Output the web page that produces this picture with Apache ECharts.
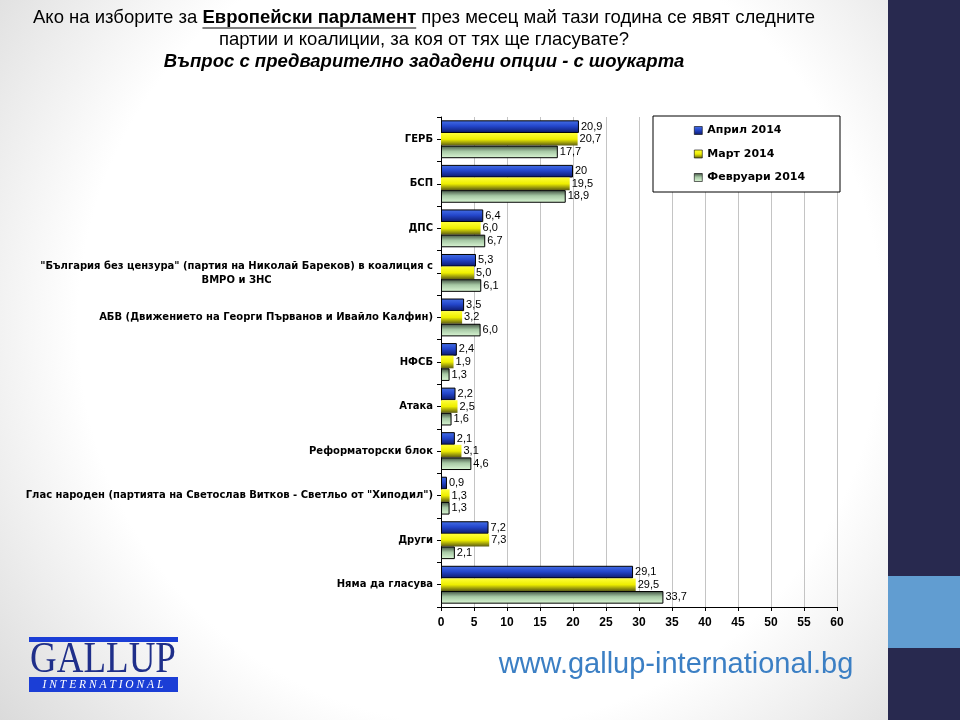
<!DOCTYPE html>
<html>
<head>
<meta charset="utf-8">
<script src="https://cdn.jsdelivr.net/npm/echarts@6/dist/echarts.min.js"></script>
<style>
html,body{margin:0;padding:0;background:#fff;}
#c{width:960px;height:720px;}
</style>
</head>
<body>
<div id="c"></div>
<script>
// ---- data ----
const categories = [
  'ГЕРБ',
  'БСП',
  'ДПС',
  '"България без цензура" (партия на Николай Бареков) в коалиция с ВМРО и ЗНС',
  'АБВ (Движението на Георги Първанов и Ивайло Калфин)',
  'НФСБ',
  'Атака',
  'Реформаторски блок',
  'Глас народен (партията на Светослав Витков - Светльо от "Хиподил")',
  'Други',
  'Няма да гласува'
];
const seriesNames = ['Април 2014', 'Март 2014', 'Февруари 2014'];
const april2014 = [20.9, 20, 6.4, 5.3, 3.5, 2.4, 2.2, 2.1, 0.9, 7.2, 29.1];
const march2014 = [20.7, 19.5, 6.0, 5.0, 3.2, 1.9, 2.5, 3.1, 1.3, 7.3, 29.5];
const february2014 = [17.7, 18.9, 6.7, 6.1, 6.0, 1.3, 1.6, 4.6, 1.3, 2.1, 33.7];
const xTicks = [0, 5, 10, 15, 20, 25, 30, 35, 40, 45, 50, 55, 60];

const titleLine1a = 'Ако на изборите за ';
const titleLine1b = 'Европейски парламент';
const titleLine1c = ' през месец май тази година се явят следните';
const titleLine2 = 'партии и коалиции, за коя от тях ще гласувате?';
const titleLine3 = 'Въпрос с предварително зададени опции - с шоукарта';
const urlText = 'www.gallup-international.bg';

// ---- chart ----
const chart = echarts.init(document.getElementById('c'));
const FONT = '"Liberation Sans", Arial, sans-serif';
const LFONT = '"DejaVu Sans", Tahoma, sans-serif';

function grad(stops) {
  return {type: 'linear', x: 0, y: 0, x2: 0, y2: 1,
    colorStops: stops.map(s => ({offset: s[0], color: s[1]}))};
}
const blueG = grad([[0, '#4670e6'], [0.45, '#2447cc'], [1, '#0c1868']]);
const yellowG = grad([[0, '#ffff38'], [0.5, '#eeee00'], [1, '#5c5c14']]);
const greenG = grad([[0, '#3e4e40'], [0.45, '#a6c8a4'], [1, '#dcf8d6']]);

function fmt(v) {
  if (Number.isInteger(v) && v >= 10) return String(v);
  return v.toFixed(1).replace('.', ',');
}

const labelCfg = {
  show: true, position: 'right', distance: 2,
  fontFamily: FONT, fontSize: 11, color: '#000',
  formatter: p => fmt(p.value)
};

function mkSeries(name, data, color, bw) {
  return {
    name: name, type: 'bar', data: data,
    barGap: '0%', barCategoryGap: '15%',
    itemStyle: {color: color, borderColor: '#000', borderWidth: bw},
    label: labelCfg,
    emphasis: {disabled: true},
    z: 2
  };
}

// measure title parts for underline
const mctx = document.createElement('canvas').getContext('2d');
function tw(text, font) { mctx.font = font; return mctx.measureText(text).width; }
const T1SIZE = 18.5;
const fN = T1SIZE + 'px ' + FONT;
const fB = 'bold ' + T1SIZE + 'px ' + FONT;
const w1 = tw(titleLine1a, fN), w2 = tw(titleLine1b, fB), w3 = tw(titleLine1c, fN);
const TCX = 424;
const t1start = TCX - (w1 + w2 + w3) / 2;

const option = {
  backgroundColor: {
    type: 'radial', x: 0.5, y: 0.45, r: 0.9,
    colorStops: [{offset: 0, color: '#ffffff'}, {offset: 0.62, color: '#ffffff'}, {offset: 1, color: '#d6d6d6'}]
  },
  animation: false,
  grid: {left: 441, right: 123, top: 117, bottom: 113, containLabel: false},
  legend: {
    orient: 'vertical', left: 689, top: 120, itemGap: 12.5,
    itemWidth: 8, itemHeight: 8, icon: 'rect',
    data: seriesNames,
    textStyle: {fontFamily: LFONT, fontWeight: 'bold', fontSize: 11, color: '#000'},
    itemStyle: {borderColor: '#000', borderWidth: 0.6},
    z: 10
  },
  xAxis: {
    type: 'value', min: xTicks[0], max: xTicks[xTicks.length - 1], interval: xTicks[1] - xTicks[0],
    axisLine: {show: true, lineStyle: {color: '#000', width: 1}},
    axisTick: {show: true, length: 4, lineStyle: {color: '#000'}},
    axisLabel: {fontFamily: FONT, fontWeight: 'bold', fontSize: 12, color: '#000', margin: 10},
    splitLine: {show: true, lineStyle: {color: '#c4c4c4', width: 1}}
  },
  yAxis: [{
    type: 'category', data: categories, inverse: true,
    axisLine: {show: true, lineStyle: {color: '#000', width: 1}},
    axisTick: {show: true, alignWithLabel: true, length: 4, lineStyle: {color: '#000'}},
    axisLabel: {
      fontFamily: LFONT, fontWeight: 'bold', fontSize: 10, color: '#000', margin: 8, lineHeight: 14,
      formatter: function (v) {
        const i = v.indexOf(' ВМРО');
        if (i > 0) return '{a|' + v.slice(0, i) + '}\n{c|' + v.slice(i + 1) + '}';
        return v;
      },
      rich: {
        a: {fontFamily: LFONT, fontWeight: 'bold', fontSize: 10, color: '#000', lineHeight: 14},
        c: {fontFamily: LFONT, fontWeight: 'bold', fontSize: 10, color: '#000', lineHeight: 14, align: 'center'}
      }
    }
  }, {
    type: 'category', data: categories, inverse: true, position: 'left',
    axisLine: {show: false},
    axisTick: {show: true, alignWithLabel: false, length: 4, lineStyle: {color: '#000'}},
    axisLabel: {show: false}
  }],
  series: [
    mkSeries(seriesNames[0], april2014, blueG, 1),
    mkSeries(seriesNames[1], march2014, yellowG, 0),
    mkSeries(seriesNames[2], february2014, greenG, 1)
  ],
  graphic: [
    // legend box
    {type: 'rect', shape: {x: 653, y: 116, width: 187, height: 76},
      style: {fill: '#fff', stroke: '#000', lineWidth: 1}, z: 5},
    // right strip
    {type: 'rect', shape: {x: 888, y: 0, width: 72, height: 720}, style: {fill: '#28294f'}, z: 1},
    {type: 'rect', shape: {x: 888, y: 576, width: 72, height: 72}, style: {fill: '#619dd1'}, z: 1},
    // title
    {type: 'text', x: t1start, y: 18, z: 5,
      style: {
        text: '{n|' + titleLine1a + '}{b|' + titleLine1b + '}{n|' + titleLine1c + '}',
        verticalAlign: 'middle', textAlign: 'left',
        rich: {
          n: {fontFamily: FONT, fontSize: T1SIZE, fill: '#000'},
          b: {fontFamily: FONT, fontSize: T1SIZE, fontWeight: 'bold', fill: '#000'}
        }
      }},
    {type: 'line', z: 5, shape: {x1: t1start + w1, y1: 28, x2: t1start + w1 + w2, y2: 28},
      style: {stroke: '#000', lineWidth: 1.2}},
    {type: 'text', x: TCX, y: 40, z: 5,
      style: {text: titleLine2, fontFamily: FONT, fontSize: T1SIZE, fill: '#000', textAlign: 'center', verticalAlign: 'middle'}},
    {type: 'text', x: TCX, y: 62, z: 5,
      style: {text: titleLine3, fontFamily: FONT, fontSize: T1SIZE, fontWeight: 'bold', fontStyle: 'italic', fill: '#000', textAlign: 'center', verticalAlign: 'middle'}},
    // url
    {type: 'text', x: 676, y: 665, z: 5,
      style: {text: urlText, fontFamily: FONT, fontSize: 29, fill: '#3b7fc4', textAlign: 'center', verticalAlign: 'middle'}},
    // logo
    {type: 'rect', z: 5, shape: {x: 29, y: 637, width: 149, height: 5}, style: {fill: '#1b3ed6'}},
    {type: 'text', z: 5, x: 103, y: 660, scaleX: 0.84,
      style: {text: 'GALLUP', fontFamily: '"Liberation Serif", "Times New Roman", serif', fontSize: 44, fill: '#1f2f8a', textAlign: 'center', verticalAlign: 'middle'}},
    {type: 'rect', z: 5, shape: {x: 29, y: 677, width: 149, height: 15}, style: {fill: '#1b3ed6'}},
    {type: 'text', z: 6, x: 103, y: 685,
      style: {text: 'I N T E R N A T I O N A L', fontFamily: '"Liberation Serif", "Times New Roman", serif', fontSize: 11.5, fontStyle: 'italic', fill: '#fff', textAlign: 'center', verticalAlign: 'middle'}}
  ]
};
chart.setOption(option);
</script>
</body>
</html>
